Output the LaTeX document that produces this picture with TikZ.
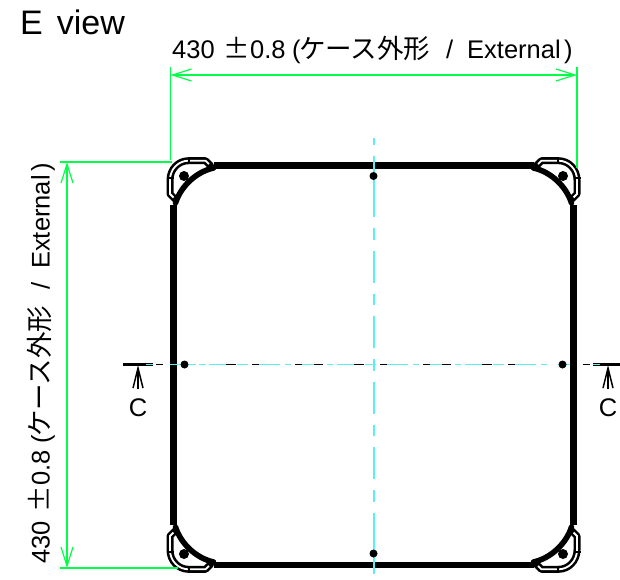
\documentclass[tikz,border=0pt]{standalone}
\usepackage{fontspec}
\setmainfont{Liberation Sans}
\newfontfamily\cjk{Noto Sans CJK JP}
\usetikzlibrary{arrows.meta}
\definecolor{dimgreen}{RGB}{0,255,70}
\definecolor{axiscyan}{RGB}{90,240,240}
\newcommand{\cjkbig}[1]{{\cjk\fontsize{26.5}{26.5}\selectfont #1}}
\newcommand{\dimtext}{\makebox[51.5pt][l]{430}\makebox[26.5pt][l]{\cjkbig{±}}\makebox[42pt][l]{0.8}\makebox[7pt][l]{(}\makebox[147pt][l]{\cjkbig{ケース外形}}\makebox[21pt][l]{/}External\hspace{3.5pt})}
\newcommand{\bracketpath}{(-198.5,-166) -- (-203.5,-171) -- (-203.5,-185) .. controls (-203.5,-196) and (-195,-204.3) .. (-185,-204.3) -- (-168,-204.3) -- (-163,-199.5)}
\newcommand{\bracketinner}{(-200,-167.5) -- (-203.5,-171) -- (-203.5,-185) .. controls (-203.5,-196) and (-195,-204.3) .. (-185,-204.3) -- (-168,-204.3) -- (-164.5,-201)}
\newcommand{\cornerpiece}{%
  \draw[line width=7pt,line cap=round,line join=round] \bracketpath;
  \draw[white,line width=1.8pt] \bracketinner;
  \draw[line width=1.4pt] (-207,-187) -- (-200,-187) (-184.5,-208) -- (-184.5,-201);
  \draw[line width=5.6pt,line cap=round] (-198,-162) .. controls (-193,-178) and (-178,-193) .. (-160,-197);
  \fill (-189.5,-189) circle (5pt);
}
\tikzset{
  outline/.style={line width=6.4pt},
  dimline/.style={dimgreen,line width=1.2pt},
  dimarrow/.style={dimline,{Straight Barb[length=19pt,width=12pt,line width=1.2pt]}-{Straight Barb[length=19pt,width=12pt,line width=1.2pt]}},
  axisline/.style={axiscyan,line width=1.5pt},
  cutarrow/.style={line width=1.5pt,-{Straight Barb[length=20pt,width=10pt,line width=1.5pt]}},
  cutbar/.style={line width=3pt},
  holedot/.style={fill=black},
  dimlabel/.style={font=\fontsize{25.5}{25.5}\selectfont,inner sep=0pt}
}
\begin{document}
\begin{tikzpicture}[x=1pt,y=-1pt]
\useasboundingbox (0,0) rectangle (620,579);
% outline
\draw[outline] (173.5,205) -- (173.5,525) (573.5,205) -- (573.5,525) (213.5,165.5) -- (533.5,165.5) (213.5,565) -- (533.5,565);
% corners
\begin{scope}[shift={(373.5,365)}]\cornerpiece\end{scope}
\begin{scope}[shift={(373.5,365)},xscale=-1]\cornerpiece\end{scope}
\begin{scope}[shift={(373.5,365)},yscale=-1]\cornerpiece\end{scope}
\begin{scope}[shift={(373.5,365)},xscale=-1,yscale=-1]\cornerpiece\end{scope}
% cutting plane
\draw[cutbar] (123,364.5) -- (153,364.5);
\draw[cutbar] (593,364.5) -- (620,364.5);
\draw[line width=1.8pt,dash pattern=on 10pt off 16pt on 7pt off 36pt on 7pt off 12pt on 9pt off 31pt] (226,364.5) -- (540,364.5);
\draw[line width=1.8pt] (156,364.5) -- (163,364.5) (583,364.5) -- (590,364.5);
\draw[axisline,dash pattern=on 17pt off 11pt on 11pt off 11pt on 21pt off 5pt on 6pt off 11pt on 12pt off 13pt on 6pt off 4pt] (209,364.5) -- (581,364.5);
\draw[axisline] (146,364.5) -- (153,364.5) (170,364.5) -- (184,364.5) (187,364.5) -- (196,364.5) (199,364.5) -- (206,364.5) (593,364.5) -- (600,364.5);
% vertical axis
\draw[axisline] (374,138) -- (374,145) (374,156) -- (374,217) (374,513) -- (374,574);
\draw[axisline,dash pattern=on 11.5pt off 11pt on 32pt off 11pt] (374,228) -- (374,502);
% holes
\fill[holedot] (373.5,176) circle (4pt);
\fill[holedot] (373.5,553.5) circle (4pt);
\fill[holedot] (184.5,364.5) circle (4pt);
\fill[holedot] (562.5,364.5) circle (4pt);
% cut arrows
\coordinate (cutLa) at (138,389);
\coordinate (cutLb) at (138,365);
\coordinate (cutRa) at (608,389);
\coordinate (cutRb) at (608,365);
\draw[cutarrow] (cutLa) -- (cutLb);
\draw[cutarrow] (cutRa) -- (cutRb);
\node[dimlabel] (cL) at (138,407.5) {C};
\node[dimlabel] (cR) at (608,407.5) {C};
% dimensions
\coordinate (dTL) at (170.5,75);
\coordinate (dTR) at (577,75);
\coordinate (dLT) at (67,162);
\coordinate (dLB) at (67,568);
\draw[dimarrow] (dTL) -- (dTR);
\draw[dimarrow] (dLT) -- (dLB);
\draw[dimline] (170.5,67) -- (170.5,160) (577,67) -- (577,168);
\draw[dimline] (60,162) -- (172,162) (60,568) -- (178,568);
% texts
\node[inner sep=0pt,anchor=base west,font=\fontsize{34}{34}\selectfont] (title) at (20,34) {E\hspace{4.5pt} view};
\node[dimlabel,anchor=base west] (dimH) at (172,58) {\dimtext};
\node[dimlabel,anchor=base west,rotate=90] (dimV) at (49.5,564) {\dimtext};
\end{tikzpicture}
\end{document}
